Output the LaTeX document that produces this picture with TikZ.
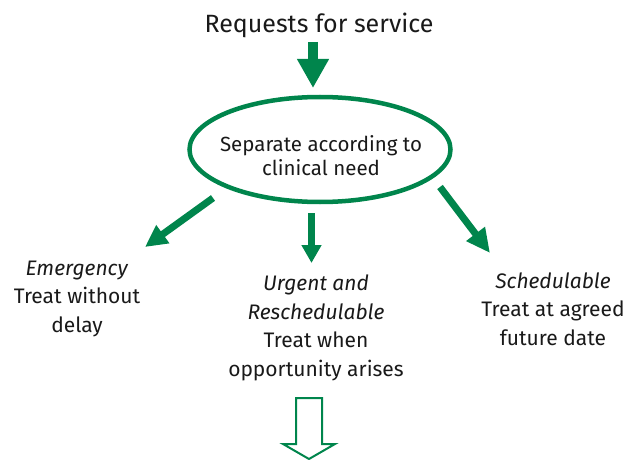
\documentclass[tikz,border=0pt]{standalone}
\usepackage{fontspec}
\setmainfont{Fira Sans}
\usetikzlibrary{arrows.meta,shapes.geometric}
\definecolor{nhsgreen}{RGB}{0,133,76}
\tikzset{
  txt/.style={inner sep=0pt, align=center, anchor=base, font=\fontsize{21}{28.5}\selectfont, text=black!90},
  garrow/.style={draw=nhsgreen, line width=7pt, -{Triangle[length=22pt,width=21pt]}},
}
\begin{document}
\begin{tikzpicture}[x=1pt,y=1pt]
\useasboundingbox (0,0) rectangle (632,459);
% title
\node[txt, font=\fontsize{25}{30}\selectfont] (req) at (319,426) {Requests for service};
% ellipse
\node[ellipse, draw=nhsgreen, line width=4.5pt, minimum width=261pt, minimum height=105pt, inner sep=0pt] (ell) at (320,309.5) {};
\node[txt, font=\fontsize{20.5}{23.5}\selectfont] (sep) at (321,284) {Separate according to\\clinical need};
% outcome texts (anchor = baseline of last line)
\node[txt] (emer) at (77,127) {\textit{Emergency}\\Treat without\\delay};
\node[txt] (urg) at (316,83) {\textit{Urgent and}\\\textit{Reschedulable}\\Treat when\\opportunity arises};
\node[txt] (sched) at (553,114) {\textit{Schedulable}\\Treat at agreed\\future date};
% arrow ends
\coordinate (t0) at (313,417);
\coordinate (h0) at (313,371);
\coordinate (t1) at (213,261);
\coordinate (h1) at (145,212);
\coordinate (t2) at (311.5,246);
\coordinate (h2) at (311.5,196);
\coordinate (t3) at (440,272);
\coordinate (h3) at (490,206);
\draw[garrow, line width=10pt, -{Triangle[length=29pt,width=30pt]}] (t0) -- (h0);
\draw[garrow] (t1) -- (h1);
\draw[garrow, -{Triangle[length=18pt,width=19pt]}] (t2) -- (h2);
\draw[garrow, -{Triangle[length=24pt,width=22pt]}] (t3) -- (h3);
% hollow arrow
\draw[nhsgreen, line width=2pt, line join=miter] (296,61) -- (322,61) -- (322,15) -- (335,15) -- (309,0) -- (283,15) -- (296,15) -- cycle;
\end{tikzpicture}
\end{document}
